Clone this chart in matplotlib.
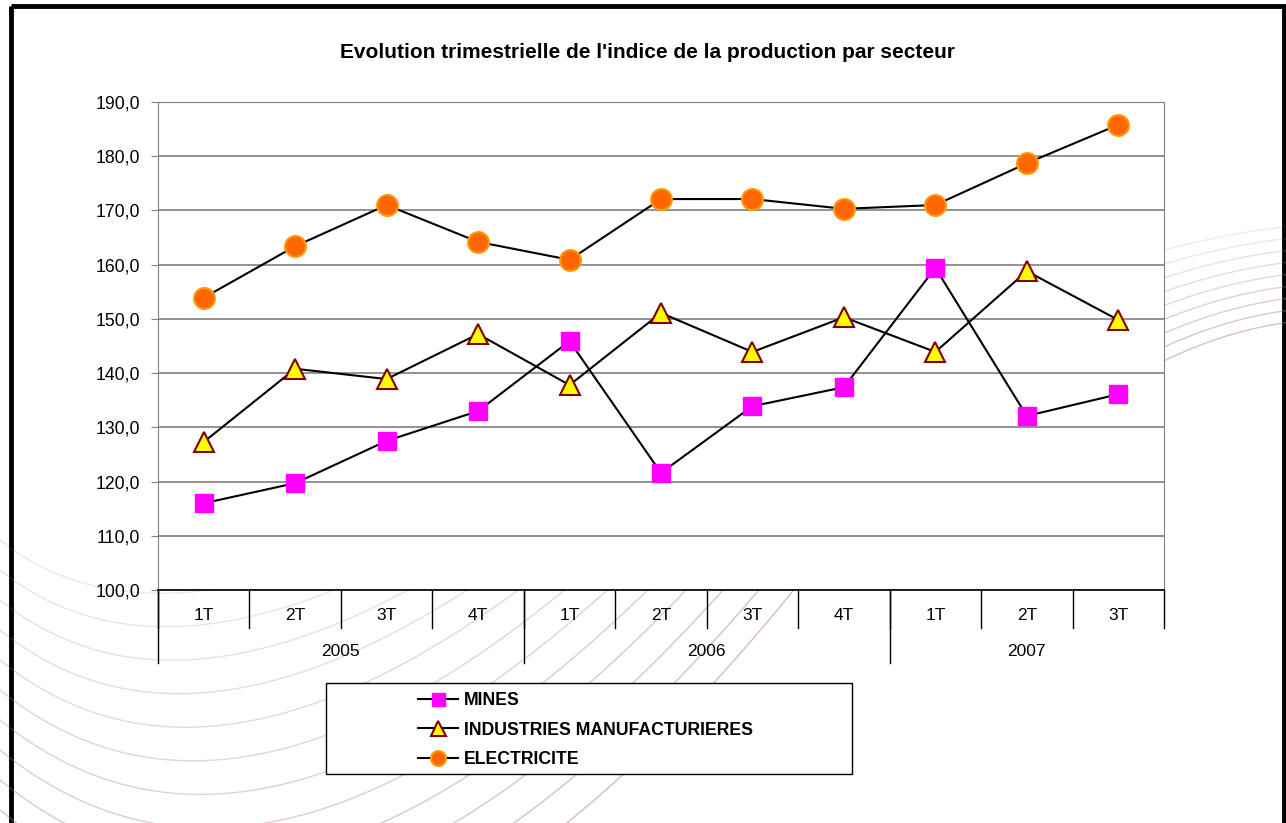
import matplotlib.pyplot as plt
import numpy as np
from matplotlib.patches import Rectangle

plt.rcParams['font.family'] = ['Liberation Sans', 'DejaVu Sans']

# Données
trimestres = ['1T', '2T', '3T', '4T', '1T', '2T', '3T', '4T', '1T', '2T', '3T']
annees = ['2005', '2006', '2007']
trim_par_annee = [4, 4, 3]

mines = [116.0, 119.7, 127.5, 133.0, 145.9, 121.6, 133.9, 137.4, 159.4, 132.1, 136.1]
industries = [127.3, 140.8, 138.9, 147.2, 137.8, 151.1, 143.9, 150.3, 143.9, 158.8, 149.8]
electricite = [153.9, 163.4, 171.0, 164.2, 160.9, 172.1, 172.1, 170.3, 171.0, 178.7, 185.8]

W, H = 1286, 823
fig = plt.figure(figsize=(W / 100, H / 100), dpi=100)

# fond de la diapositive : arcs décoratifs + cadre noir (en pixels)
bg = fig.add_axes([0, 0, 1, 1], zorder=0)
bg.set_xlim(0, W)
bg.set_ylim(H, 0)
bg.axis('off')


def courbe(p0, p1, p2, **kw):
    t = np.linspace(0, 1, 100)[:, None]
    pts = (1 - t) ** 2 * np.array(p0) + 2 * (1 - t) * t * np.array(p1) + t ** 2 * np.array(p2)
    bg.plot(pts[:, 0], pts[:, 1], **kw)


for k in range(12):
    courbe((0, 540 + 30 * k), (200 + 18 * k, 700 + 45 * k), (640 + 28 * k, 380),
           color='#b07890', alpha=0.18 + 0.03 * k, lw=1)
for k in range(9):
    courbe((1100, 270 + 16 * k), (1200, 235 + 12 * k), (1300, 225 + 12 * k),
           color='#b07890', alpha=0.15 + 0.04 * k, lw=1)

bg.add_patch(Rectangle((11, 6), 1284 - 11, H, fill=False,
                       edgecolor='black', linewidth=3.5))

ax = fig.add_axes([158 / W, 1 - 590 / H, (1164 - 158) / W, (590 - 102) / H], zorder=1)
x = list(range(len(trimestres)))

ax.plot(x, mines, color='black', lw=1.5, marker='s', ms=13,
        mfc='#FF00FF', mec='#FF00FF', label='MINES', zorder=3)
ax.plot(x, industries, color='black', lw=1.5, marker='^', ms=15,
        mfc='#FFFF00', mec='#800000', mew=1.5,
        label='INDUSTRIES MANUFACTURIERES', zorder=3)
ax.plot(x, electricite, color='black', lw=1.5, marker='o', ms=15,
        mfc='#FF6600', mec='#FF9900', mew=1.5, label='ELECTRICITE', zorder=3)

ax.set_xlim(-0.5, len(trimestres) - 0.5)
ax.set_ylim(100, 190)
ax.set_yticks(range(100, 191, 10))
ax.set_yticklabels([f'{v},0' for v in range(100, 191, 10)], fontsize=12.7)
ax.yaxis.grid(True, color='#808080', lw=1.2)
ax.set_axisbelow(True)
ax.tick_params(axis='y', length=5, color='#808080', pad=8)
ax.set_xticks([])

for side in ['left', 'right', 'top']:
    ax.spines[side].set_color('#808080')
ax.spines['bottom'].set_color('black')
ax.spines['bottom'].set_linewidth(1.2)

# axe des catégories à deux niveaux
trans = ax.get_xaxis_transform()
for i in range(len(trimestres) + 1):
    ax.plot([i - 0.5, i - 0.5], [0, -38 / 488], transform=trans,
            color='black', lw=1, clip_on=False)
for i, t in enumerate(trimestres):
    ax.text(i, -25 / 488, t, transform=trans, ha='center', va='center', fontsize=12.5)

debut = 0
for annee, n in zip(annees, trim_par_annee):
    ax.plot([debut - 0.5, debut - 0.5], [0, -73 / 488], transform=trans,
            color='black', lw=1, clip_on=False)
    ax.text(debut + n / 2 - 0.5, -62 / 488, annee, transform=trans,
            ha='center', va='center', fontsize=12.5)
    debut += n

fig.text(647 / W, 1 - 52 / H,
         "Evolution trimestrielle de l'indice de la production par secteur",
         ha='center', va='center', fontsize=15, fontweight='bold')

# cadre de la légende
bg.add_patch(Rectangle((326, 683), 852 - 326, 774 - 683, facecolor='white',
                       edgecolor='black', linewidth=1, zorder=2))
leg = fig.legend(loc='upper left', bbox_to_anchor=(409 / W, 1 - 683 / H),
                 bbox_transform=fig.transFigure, frameon=False,
                 prop={'weight': 'bold', 'size': 12.7},
                 handlelength=2.3, labelspacing=0.72, borderpad=0,
                 handletextpad=0.3, markerscale=0.72)
leg.set_zorder(3)

fig.savefig('out.png', dpi=100)
